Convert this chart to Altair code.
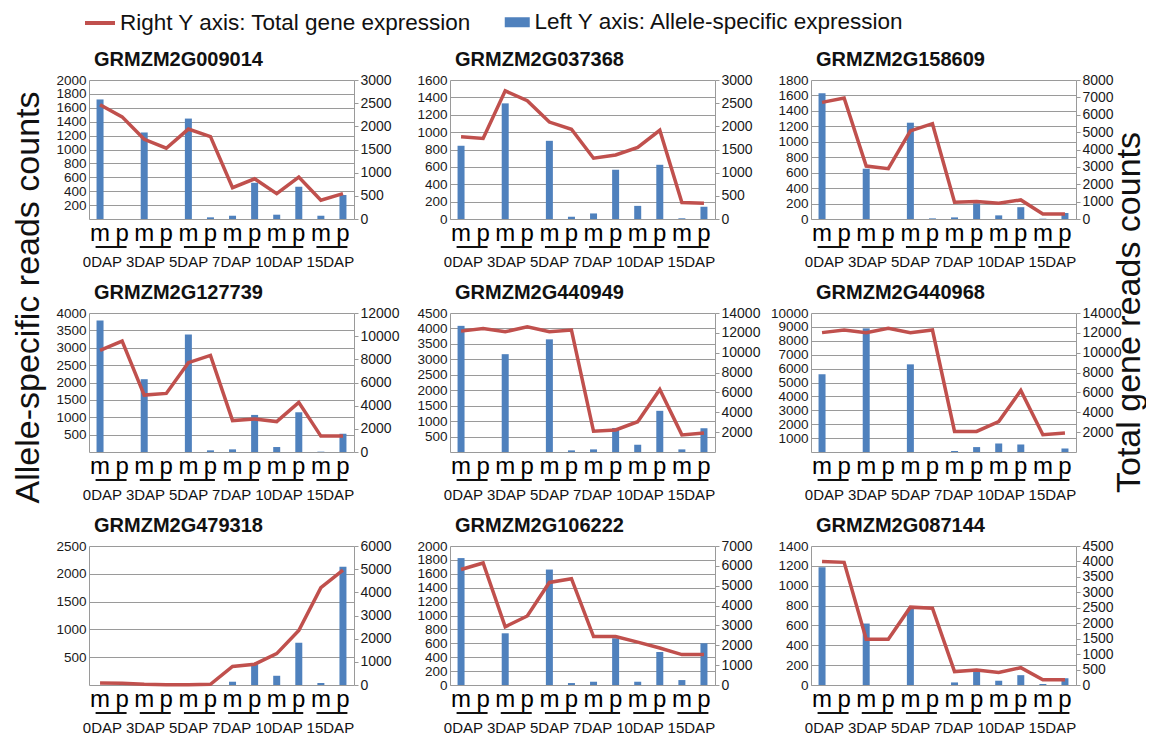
import altair as alt
import pandas as pd

FONT = "Liberation Sans"
BLUE = "#4F81BD"
RED = "#C0504D"
GRID = "#9a9a9a"

# ---------------- data ----------------
daps = ["0DAP", "3DAP", "5DAP", "7DAP", "10DAP", "15DAP"]
alleles = ["m", "p"]
legend_labels = ["Right Y axis: Total gene expression", "Left Y axis: Allele-specific expression"]
left_title = "Allele-specific reads counts"
right_title = "Total gene reads counts"

gene_names = ["GRMZM2G009014", "GRMZM2G037368", "GRMZM2G158609",
              "GRMZM2G127739", "GRMZM2G440949", "GRMZM2G440968",
              "GRMZM2G479318", "GRMZM2G106222", "GRMZM2G087144"]

# allele-specific reads (left axis), order: 0DAP m, 0DAP p, 3DAP m, ...
allele_1 = [1720, 0, 1245, 0, 1445, 24, 47, 521, 62, 464, 47, 346]
allele_2 = [843, 0, 1331, 0, 900, 26, 64, 567, 151, 624, 8, 140]
allele_3 = [1630, 0, 651, 0, 1247, 8, 21, 204, 47, 153, 4, 77]
allele_4 = [3781, 0, 2095, 0, 3381, 48, 76, 1067, 143, 1143, 10, 524]
allele_5 = [4084, 0, 3167, 0, 3647, 53, 85, 778, 235, 1333, 85, 768]
allele_6 = [5600, 0, 8894, 0, 6306, 0, 70, 353, 612, 541, 0, 259]
allele_7 = [0, 0, 0, 0, 0, 0, 59, 374, 166, 760, 36, 2126]
allele_8 = [1826, 0, 744, 0, 1661, 28, 47, 673, 47, 475, 71, 602]
allele_9 = [1186, 0, 619, 0, 768, 0, 26, 142, 43, 99, 10, 69]

# total gene reads (right axis)
total_1 = [2467, 2204, 1720, 1528, 1941, 1777, 675, 867, 547, 903, 405, 547]
total_2 = [1773, 1738, 2766, 2553, 2092, 1936, 1312, 1383, 1546, 1915, 355, 340]
total_3 = [6714, 6960, 3045, 2894, 5068, 5485, 965, 1002, 908, 1097, 284, 284]
total_4 = [8771, 9571, 4914, 5057, 7714, 8343, 2714, 2857, 2629, 4286, 1371, 1371]
total_5 = [12175, 12441, 12109, 12607, 12109, 12275, 2090, 2223, 3052, 6303, 1725, 1924]
total_6 = [12024, 12287, 12024, 12452, 12024, 12287, 2075, 2075, 3064, 6193, 1746, 1911]
total_7 = [86, 71, 28, 14, 14, 28, 798, 898, 1354, 2352, 4204, 4960]
total_8 = [5814, 6144, 2932, 3475, 5166, 5353, 2438, 2438, 2158, 1861, 1532, 1532]
total_9 = [4002, 3971, 1482, 1482, 2520, 2488, 434, 487, 402, 561, 169, 169]

# axis ranges / tick steps / whether 0 is labelled
left_max = [2000, 1600, 1800, 4000, 4500, 10000, 2500, 2000, 1400]
left_step = [200, 200, 200, 500, 500, 1000, 500, 200, 200]
left_zero = [False, True, True, False, False, False, False, True, True]
right_max = [3000, 3000, 8000, 12000, 14000, 14000, 6000, 7000, 4500]
right_step = [500, 500, 1000, 2000, 2000, 2000, 1000, 1000, 500]
right_zero = [True, True, True, True, False, False, True, True, True]

allele_all = [allele_1, allele_2, allele_3, allele_4, allele_5, allele_6, allele_7, allele_8, allele_9]
total_all = [total_1, total_2, total_3, total_4, total_5, total_6, total_7, total_8, total_9]

W, H = 265, 139
STEP = W / 12.0
cats = [f"{d} {a}" for d in daps for a in alleles]
dap_row = pd.DataFrame({"txt": [" ".join(daps)]})


def panel(i):
    df = pd.DataFrame({
        "idx": list(range(12)),
        "cat": cats,
        "dap": [d for d in daps for a in alleles],
        "allele": [a for d in daps for a in alleles],
        "asv": allele_all[i],
        "tot": total_all[i],
        "bar_series": legend_labels[1],
        "line_series": legend_labels[0],
    })
    xscale = alt.Scale(type="band", paddingInner=0, paddingOuter=0)
    xaxis = alt.Axis(title=None, labelExpr="split(datum.label, ' ')[1]", labelFontSize=24,
                     labelFont=FONT, labelColor="#000", labelPadding=2, ticks=False,
                     domainColor=GRID, labelAngle=0, grid=False, labelOverlap=False)

    lstart = 0 if left_zero[i] else left_step[i]
    lvals = list(range(lstart, left_max[i] + 1, left_step[i]))
    rstart = 0 if right_zero[i] else right_step[i]
    rvals = list(range(rstart, right_max[i] + 1, right_step[i]))

    laxis_kw = dict(values=lvals, orient="left", title=None, grid=True, gridColor=GRID,
                    ticks=False, domainColor=GRID, labelFontSize=13.5, labelPadding=3,
                    labelFont=FONT, labelColor="#1a1a1a", format="d", labelOverlap=False)
    if i == 0:
        laxis_kw.update(title=left_title, titleFontSize=34, titleFont=FONT, titleFontWeight="normal",
                        titleColor="#111", titleAngle=270, titleAlign="center", titleBaseline="middle",
                        titleX=-61, titleY=217)
    raxis_kw = dict(values=rvals, orient="right", title=None, grid=False, ticks=True, tickSize=4,
                    tickColor=GRID, domainColor=GRID, labelFontSize=14, labelPadding=2,
                    labelFont=FONT, labelColor="#1a1a1a", format="d", labelOverlap=False)
    if i == 2:
        raxis_kw.update(title=right_title, titleFontSize=34, titleFont=FONT, titleFontWeight="normal",
                        titleColor="#111", titleAngle=270, titleAlign="center", titleBaseline="middle",
                        titleX=53, titleY=232)

    x_bar = alt.X("cat:N", sort=cats, scale=xscale, axis=xaxis)
    x_mid = alt.X("cat:N", sort=cats, scale=xscale, axis=xaxis, bandPosition=0.5)

    bar_enc = dict(x=x_bar, y=alt.Y("asv:Q", scale=alt.Scale(domain=[0, left_max[i]], nice=False),
                                     axis=alt.Axis(**laxis_kw)))
    line_enc = dict(x=x_mid, y=alt.Y("tot:Q", scale=alt.Scale(domain=[0, right_max[i]], nice=False),
                                     axis=alt.Axis(**raxis_kw)),
                    order=alt.Order("idx:Q"))
    if i == 0:
        bar_enc["fill"] = alt.Fill("bar_series:N", scale=alt.Scale(domain=[legend_labels[1]], range=[BLUE]),
                                   legend=alt.Legend(title=None, orient="none", legendX=417, legendY=-69,
                                                     labelFontSize=22.5, labelFont=FONT, labelColor="#111",
                                                     labelLimit=600, labelOffset=6, padding=0,
                                                     symbolType="M-1.25,-0.5H1.25V0.5H-1.25Z", symbolSize=400,
                                                     symbolStrokeWidth=0))
        line_enc["stroke"] = alt.Stroke("line_series:N", scale=alt.Scale(domain=[legend_labels[0]], range=[RED]),
                                        legend=alt.Legend(title=None, orient="none", legendX=-1, legendY=-69,
                                                          labelFontSize=22.5, labelFont=FONT, labelColor="#111",
                                                          labelLimit=600, labelOffset=8, padding=0,
                                                          symbolType="M-1.5,0H1.5", symbolSize=400,
                                                          symbolStrokeWidth=4))

    bars = alt.Chart(df).mark_bar(size=7, color=BLUE).encode(**bar_enc)
    line = alt.Chart(df).mark_line(color=RED, strokeWidth=3.5).encode(**line_enc)
    underline = alt.Chart(df).transform_filter("datum.allele == 'm'").mark_bar(
        size=31, xOffset=STEP / 2, color="#111"
    ).encode(x=x_mid, y=alt.value(H + 27), y2=alt.value(H + 29))
    dap_text = alt.Chart(dap_row).mark_text(
        fontSize=15, font=FONT, color="#111", baseline="middle", align="center"
    ).encode(x=alt.value(W / 2 - 3), y=alt.value(H + 43), text="txt:N")

    return alt.layer(bars, line, underline, dap_text).resolve_scale(y="independent").properties(
        width=W, height=H,
        title=alt.TitleParams(gene_names[i], anchor="start", frame="group", fontSize=20, fontWeight="bold",
                              font=FONT, dx=5, offset=3, color="#111"))


panels = [panel(i) for i in range(9)]
chart = alt.concat(*panels, columns=3, spacing={"row": 94, "column": 96}, bounds="flush").configure_view(
    stroke=None
).properties(padding={"top": 3, "left": 2, "right": 0, "bottom": 0})

chart.save("out.html", embed_options={"renderer": "svg", "actions": False})
